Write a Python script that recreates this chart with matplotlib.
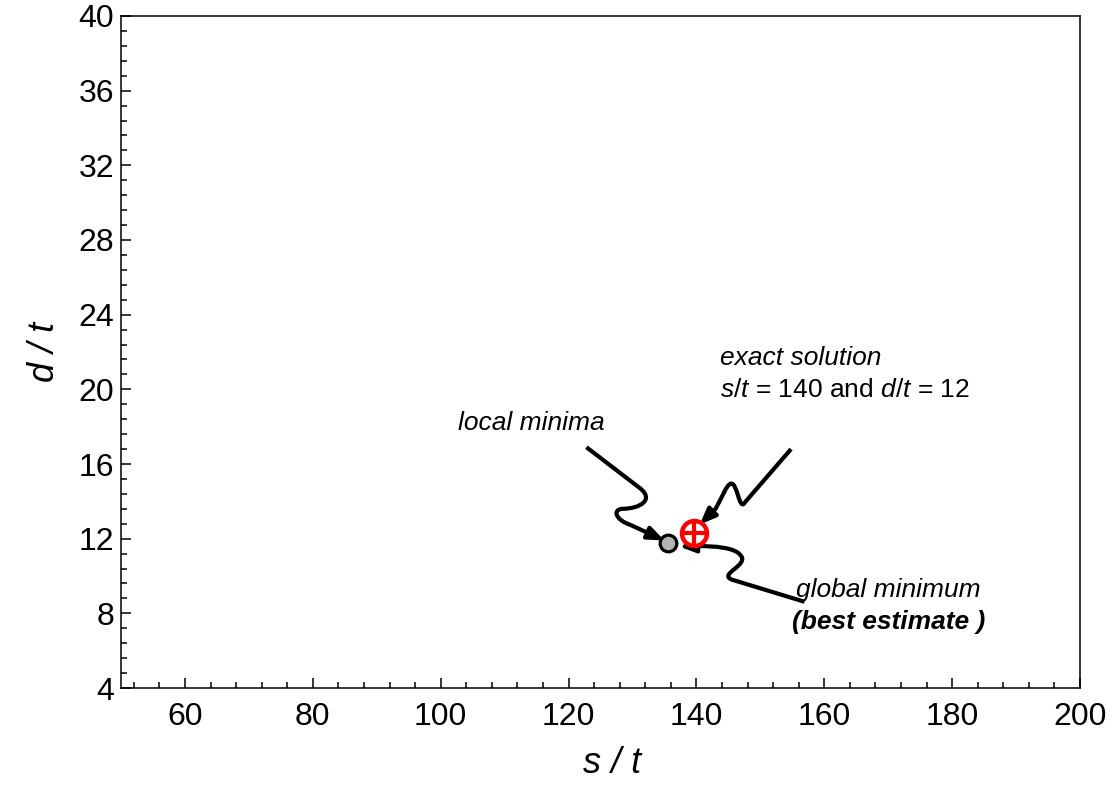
import matplotlib
matplotlib.use("Agg")
import matplotlib.pyplot as plt
from matplotlib.path import Path
from matplotlib.patches import FancyArrowPatch
from matplotlib.ticker import MultipleLocator

plt.rcParams['font.family'] = ['Liberation Sans', 'DejaVu Sans']
plt.rcParams['mathtext.fontset'] = 'custom'
plt.rcParams['mathtext.rm'] = 'Liberation Sans'
plt.rcParams['mathtext.it'] = 'Liberation Sans:italic'

# Axis ranges and ticks
x_limits = (50, 200)
y_limits = (4, 40)
x_major = [60, 80, 100, 120, 140, 160, 180, 200]
y_major = [4, 8, 12, 16, 20, 24, 28, 32, 36, 40]

# Estimated points
best_estimate = (135.6, 11.75)      # global minimum of the search
exact_solution = (139.6, 12.3)      # s/t = 140, d/t = 12

# Annotation arrow paths (data coordinates)
local_arrow = [
    (Path.MOVETO, (122.8, 16.9)),
    (Path.LINETO, (131.0, 14.75)),
    (Path.CURVE4, (133.6, 14.1)),
    (Path.CURVE4, (131.2, 13.6)),
    (Path.CURVE4, (128.4, 13.6)),
    (Path.CURVE4, (126.8, 13.55)),
    (Path.CURVE4, (127.4, 13.0)),
    (Path.CURVE4, (129.6, 12.75)),
    (Path.LINETO, (135.0, 11.9)),
]
exact_arrow = [
    (Path.MOVETO, (154.8, 16.8)),
    (Path.LINETO, (147.6, 13.95)),
    (Path.CURVE4, (146.7, 13.4)),
    (Path.CURVE4, (146.4, 15.05)),
    (Path.CURVE4, (145.4, 14.95)),
    (Path.CURVE4, (144.7, 14.9)),
    (Path.CURVE4, (144.0, 14.2)),
    (Path.CURVE4, (143.0, 13.6)),
    (Path.LINETO, (140.5, 12.75)),
]
global_arrow = [
    (Path.MOVETO, (156.9, 8.62)),
    (Path.LINETO, (145.6, 9.8)),
    (Path.CURVE4, (143.2, 10.1)),
    (Path.CURVE4, (148.6, 10.6)),
    (Path.CURVE4, (146.8, 11.15)),
    (Path.CURVE4, (146.0, 11.5)),
    (Path.CURVE4, (143.0, 11.62)),
    (Path.CURVE4, (140.0, 11.6)),
    (Path.LINETO, (137.3, 11.58)),
]

fig = plt.figure(figsize=(11.18, 7.92), dpi=100)
ax = fig.add_axes([121 / 1118, 104 / 792, 959 / 1118, 672 / 792])

ax.set_xlim(*x_limits)
ax.set_ylim(*y_limits)
ax.set_xticks(x_major)
ax.set_yticks(y_major)
ax.xaxis.set_minor_locator(MultipleLocator(4))
ax.yaxis.set_minor_locator(MultipleLocator(0.8))
ax.tick_params(which='both', direction='in', top=False, right=False,
               width=1.1, colors='black', labelsize=23)
ax.tick_params(which='major', length=7.5)
ax.tick_params(which='minor', length=4.3)
ax.tick_params(axis='x', which='major', pad=10)
ax.tick_params(axis='y', which='major', pad=5)
for sp in ax.spines.values():
    sp.set_linewidth(1.1)

ax.set_xlabel('s / t', fontsize=26, style='italic', labelpad=10, x=0.512)
ax.set_ylabel('d / t', fontsize=26, style='italic', labelpad=12)

for spec in (local_arrow, exact_arrow, global_arrow):
    codes = [c for c, _ in spec]
    verts = [v for _, v in spec]
    arrow = FancyArrowPatch(path=Path(verts, codes), arrowstyle='-|>,head_length=0.8,head_width=0.32',
                            mutation_scale=12, lw=3.0, color='black',
                            capstyle='butt', joinstyle='round', zorder=3)
    ax.add_patch(arrow)

ax.plot(*best_estimate, marker='o', ms=12, mfc='#b4b4b4', mec='black', mew=2.3,
        zorder=4, clip_on=False)
ax.plot(*exact_solution, marker='o', ms=18, mfc='white', mec='red', mew=3.2, zorder=4)
ax.plot(*exact_solution, marker='+', ms=16, mec='red', mew=3.0, zorder=5)

ax.text(102.7, 18.2, 'local minima', fontsize=19, style='italic', ha='left', va='center')
ax.text(143.75, 21.68, 'exact solution', fontsize=19, style='italic', ha='left', va='center')
ax.text(143.75, 19.96, r'$s$/$t$ = 140 and $d$/$t$ = 12', fontsize=19, ha='left', va='center')
ax.text(155.6, 9.25, 'global minimum', fontsize=19, style='italic', ha='left', va='center')
ax.text(154.9, 7.55, '(best estimate )', fontsize=19, style='italic', weight='bold',
        ha='left', va='center')

fig.savefig('out.png', dpi=100)
